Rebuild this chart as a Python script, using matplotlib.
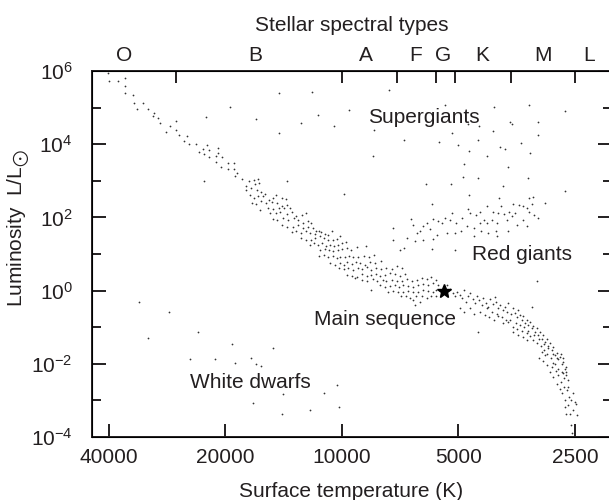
import numpy as np
import matplotlib
matplotlib.use('Agg')
import matplotlib.pyplot as plt
from matplotlib.ticker import NullLocator, NullFormatter

plt.rcParams['font.family'] = 'Liberation Sans'
plt.rcParams['mathtext.fontset'] = 'custom'
plt.rcParams['mathtext.rm'] = 'Liberation Sans'
plt.rcParams['mathtext.fallback'] = 'stixsans'
plt.rcParams['font.size'] = 15
ink = '#231f20'

# star positions as (log10 T [K], log10 L/Lsun)
ms_upper = [
    (4.605, 5.94), (4.602, 5.72), (4.579, 5.72), (4.561, 5.80), (4.561, 5.58), (4.561, 5.41),
    (4.541, 5.34), (4.537, 5.13), (4.515, 5.12), (4.529, 4.96), (4.501, 4.96), (4.485, 4.84),
    (4.488, 4.78), (4.475, 4.71), (4.470, 4.58), (4.429, 4.63), (4.444, 4.49), (4.455, 4.32),
    (4.430, 4.38), (4.421, 4.24), (4.400, 4.23), (4.407, 4.10), (4.395, 4.01), (4.377, 4.01),
    (4.349, 3.97), (4.360, 3.88), (4.344, 3.84), (4.369, 3.80), (4.356, 3.74), (4.321, 3.89),
    (4.320, 3.75), (4.344, 3.64), (4.326, 3.67), (4.309, 3.64), (4.325, 3.52), (4.295, 3.50),
    (4.279, 3.49), (4.313, 3.37), (4.295, 3.31), (4.279, 3.33), (4.272, 3.20), (4.276, 3.13),
    (4.257, 3.06),
]

ms_middle = [
    (4.240, 2.99), (4.228, 3.03), (4.218, 3.05), (4.249, 2.87), (4.225, 2.90), (4.214, 2.94),
    (4.247, 2.74), (4.234, 2.80), (4.219, 2.74), (4.210, 2.69), (4.199, 2.65), (4.238, 2.62),
    (4.228, 2.53), (4.217, 2.58), (4.204, 2.58), (4.188, 2.48), (4.178, 2.53), (4.171, 2.62),
    (4.156, 2.53), (4.145, 2.50), (4.232, 2.39), (4.221, 2.37), (4.208, 2.44), (4.195, 2.39),
    (4.182, 2.42), (4.168, 2.39), (4.212, 2.21), (4.191, 2.26), (4.178, 2.23), (4.162, 2.27),
    (4.150, 2.26), (4.154, 2.30), (4.143, 2.35), (4.135, 2.26), (4.187, 2.12), (4.171, 2.12),
    (4.161, 2.14), (4.143, 2.10), (4.128, 2.14), (4.118, 2.03), (4.104, 2.07), (4.092, 2.12),
    (4.179, 1.95), (4.169, 1.94), (4.152, 1.98), (4.139, 1.94), (4.124, 1.98), (4.113, 1.94),
    (4.100, 1.86), (4.087, 1.89), (4.080, 1.85), (4.154, 1.80), (4.141, 1.75), (4.126, 1.75),
    (4.113, 1.80), (4.100, 1.71), (4.087, 1.75), (4.074, 1.71), (4.066, 1.64), (4.053, 1.59),
    (4.130, 1.59), (4.118, 1.62), (4.105, 1.57), (4.094, 1.62), (4.082, 1.57), (4.070, 1.55),
    (4.059, 1.62), (4.044, 1.55), (4.036, 1.53), (4.027, 1.62), (4.106, 1.43), (4.094, 1.39),
    (4.081, 1.39), (4.070, 1.43), (4.057, 1.48), (4.047, 1.43), (4.035, 1.39), (4.022, 1.37),
    (4.014, 1.41), (4.006, 1.48), (4.082, 1.25), (4.072, 1.30), (4.062, 1.25), (4.051, 1.30),
    (4.042, 1.23), (4.031, 1.25), (4.020, 1.22), (4.010, 1.25), (4.001, 1.30), (3.990, 1.34),
    (4.057, 1.11), (4.044, 1.13), (4.033, 1.11), (4.022, 1.07), (4.010, 1.11), (4.001, 1.13),
    (3.988, 1.16), (3.976, 1.11), (3.962, 1.19), (3.939, 1.22), (4.059, 0.95), (4.047, 0.98),
    (4.036, 0.91), (4.024, 0.95), (4.014, 0.89), (4.004, 0.93), (3.993, 0.91), (3.982, 0.95),
    (3.971, 0.91), (3.958, 0.91), (3.944, 0.95), (3.930, 0.91), (3.918, 0.96), (4.030, 0.75),
    (4.019, 0.70), (4.006, 0.75), (3.995, 0.70), (3.986, 0.77), (3.975, 0.73), (3.964, 0.79),
    (3.954, 0.75), (3.941, 0.70), (3.928, 0.77), (3.915, 0.75), (3.898, 0.82), (4.007, 0.61),
    (3.995, 0.58), (3.984, 0.61), (3.971, 0.57), (3.958, 0.63), (3.947, 0.58), (3.935, 0.64),
    (3.924, 0.57), (3.911, 0.61), (3.898, 0.58), (3.885, 0.63), (3.872, 0.60), (3.859, 0.66),
    (3.846, 0.61), (3.986, 0.43), (3.975, 0.40), (3.962, 0.38), (3.949, 0.46), (3.936, 0.40),
    (3.924, 0.43), (3.912, 0.46), (3.902, 0.40), (3.889, 0.43), (3.876, 0.48), (3.863, 0.46),
    (3.850, 0.40), (3.837, 0.46), (3.966, 0.34), (3.947, 0.29), (3.935, 0.27), (3.921, 0.31),
    (3.909, 0.25), (3.895, 0.29), (3.885, 0.25), (3.872, 0.29), (3.859, 0.25), (3.846, 0.27),
    (3.832, 0.31), (3.820, 0.25), (3.807, 0.29), (3.794, 0.34), (3.781, 0.31), (3.769, 0.38),
    (3.756, 0.29), (3.924, 0.02), (3.902, 0.16), (3.889, 0.11), (3.876, 0.13), (3.863, 0.16),
    (3.852, 0.11), (3.842, 0.16), (3.829, 0.13), (3.816, 0.11), (3.803, 0.16), (3.790, 0.18),
    (3.777, 0.16), (3.764, 0.20), (3.751, 0.16), (3.880, -0.03), (3.867, 0.00), (3.855, -0.05),
    (3.842, -0.03), (3.829, 0.00), (3.816, -0.05), (3.803, -0.03), (3.790, 0.02), (3.777, 0.00),
    (3.766, -0.03), (3.756, 0.02), (3.848, -0.16), (3.835, -0.15), (3.823, -0.21), (3.809, -0.16),
    (3.794, -0.15), (3.781, -0.21), (3.769, -0.16), (3.756, -0.15), (3.816, -0.27), (3.799, -0.30),
    (3.811, -0.39),
]

ms_lower = [
    (3.729, 0.16), (3.721, 0.04), (3.712, -0.07), (3.708, -0.16), (3.702, -0.03), (3.695, -0.12),
    (3.691, -0.21), (3.685, 0.02), (3.680, -0.30), (3.674, -0.16), (3.670, -0.07), (3.662, -0.24),
    (3.656, -0.35), (3.652, -0.15), (3.645, -0.26), (3.639, -0.39), (3.635, -0.21), (3.628, -0.33),
    (3.622, -0.44), (3.618, -0.24), (3.611, -0.37), (3.605, -0.18), (3.601, -0.30), (3.596, -0.48),
    (3.592, -0.39), (3.585, -0.53), (3.579, -0.44), (3.574, -0.58), (3.570, -0.35), (3.564, -0.64),
    (3.559, -0.48), (3.553, -0.60), (3.549, -0.73), (3.544, -0.53), (3.540, -0.67), (3.536, -0.80),
    (3.531, -0.69), (3.527, -0.89), (3.523, -0.79), (3.519, -0.94), (3.514, -0.85), (3.510, -1.03),
    (3.506, -0.97), (3.501, -1.12), (3.497, -1.03), (3.493, -1.21), (3.488, -1.12), (3.484, -1.31),
    (3.480, -1.21), (3.475, -1.40), (3.471, -1.33), (3.467, -1.52), (3.463, -1.44), (3.458, -1.63),
    (3.454, -1.55), (3.450, -1.76), (3.445, -1.70), (3.441, -1.88), (3.437, -1.81), (3.432, -2.01),
    (3.428, -1.95), (3.424, -2.13), (3.420, -2.08), (3.430, -2.25), (3.421, -2.31), (3.415, -2.45),
    (3.435, -2.49), (3.426, -2.63), (3.418, -2.72), (3.432, -2.81), (3.413, -2.90), (3.424, -3.00),
    (3.407, -2.98), (3.398, -3.04), (3.415, -3.13), (3.395, -3.09), (3.411, -3.36), (3.394, -3.41),
    (3.421, -3.38), (3.408, -3.68), (3.406, -3.90), (3.695, -0.48), (3.685, -0.58), (3.670, -0.48),
    (3.659, -0.64), (3.643, -0.58), (3.630, -0.67), (3.619, -0.73), (3.607, -0.80), (3.596, -0.69),
    (3.583, -0.89), (3.570, -0.85), (3.559, -0.99), (3.549, -1.06), (3.536, -1.10), (3.523, -1.17),
    (3.513, -1.24), (3.506, -1.35), (3.495, -1.44), (3.486, -1.52), (3.478, -1.63), (3.469, -1.74),
    (3.461, -1.85), (3.454, -1.97), (3.490, -1.83), (3.480, -1.92), (3.469, -2.04), (3.458, -2.08),
    (3.447, -2.19), (3.441, -2.31), (3.454, -2.36), (3.445, -2.54), (3.463, -2.22), (3.475, -1.76),
    (3.484, -1.67), (3.523, -1.35), (3.533, -1.26), (3.544, -1.21), (3.557, -1.12), (3.626, -0.48),
    (3.613, -0.58), (3.600, -0.64), (3.587, -0.71), (3.576, -0.79), (3.566, -0.80), (3.550, -0.89),
    (3.540, -0.94), (3.530, -1.00), (3.519, -1.10), (3.504, -1.21), (3.490, -1.33), (3.478, -1.46),
    (3.467, -1.58), (3.456, -1.72), (3.444, -1.83), (3.435, -1.74), (3.428, -1.85), (3.450, -2.01),
    (3.441, -2.13), (3.432, -2.22), (3.421, -2.22), (3.426, -2.40), (3.415, -2.63), (3.437, -2.68),
    (3.404, -2.81), (3.424, -3.18), (3.402, -3.27), (3.509, -0.46), (3.497, 0.25),
]

giants = [
    (3.626, 2.31), (3.674, 2.24), (3.716, 2.12), (3.589, 2.31), (3.543, 2.35), (3.531, 2.31),
    (3.510, 2.37), (3.609, 2.16), (3.596, 2.12), (3.581, 2.09), (3.568, 2.14), (3.552, 2.12),
    (3.516, 2.14), (3.503, 2.07), (3.493, 1.98), (3.643, 2.16), (3.654, 2.07), (3.668, 2.12),
    (3.691, 1.98), (3.706, 1.86), (3.721, 1.94), (3.734, 1.98), (3.742, 1.85), (3.751, 1.89),
    (3.764, 1.96), (3.781, 1.85), (3.790, 1.76), (3.773, 1.67), (3.798, 1.62), (3.805, 1.57),
    (3.817, 1.80), (3.822, 1.96), (3.869, 1.71), (3.833, 1.44), (3.811, 1.35), (3.791, 1.39),
    (3.766, 1.41), (3.755, 1.53), (3.729, 1.57), (3.708, 1.57), (3.692, 1.62), (3.676, 1.76),
    (3.660, 1.71), (3.643, 1.85), (3.634, 1.94), (3.626, 1.86), (3.613, 1.94), (3.600, 1.85),
    (3.574, 1.94), (3.561, 2.03), (3.531, 1.94), (3.548, 1.80), (3.523, 1.76), (3.570, 1.62),
    (3.602, 1.62), (3.622, 1.57), (3.641, 1.62), (3.600, 1.48), (3.660, 1.48), (3.708, 1.11),
    (3.768, 1.13), (3.850, 1.11), (3.867, 1.39), (3.523, 2.26), (3.839, 1.16),
]

supergiants = [
    (4.351, 4.74), (4.289, 5.03), (4.163, 5.41), (4.078, 5.42), (4.223, 4.68), (4.162, 4.30),
    (4.106, 4.57), (4.063, 4.81), (4.021, 4.50), (3.981, 4.93), (4.143, 2.99), (4.356, 2.99),
    (3.995, 2.65), (3.878, 5.48), (3.916, 4.40), (3.841, 4.11), (3.749, 4.07), (3.919, 3.67),
    (3.734, 5.06), (3.606, 5.01), (3.516, 5.07), (3.425, 4.90), (3.716, 4.31), (3.700, 3.98),
    (3.673, 3.81), (3.649, 4.11), (3.646, 4.49), (3.675, 4.56), (3.611, 4.36), (3.625, 3.67),
    (3.592, 3.92), (3.580, 3.86), (3.566, 4.62), (3.561, 4.55), (3.537, 4.02), (3.514, 3.77),
    (3.493, 4.61), (3.493, 4.24), (3.685, 3.45), (3.570, 3.38), (3.686, 3.10), (3.649, 3.08),
    (3.519, 3.07), (3.783, 2.92), (3.718, 2.92), (3.583, 2.85), (3.424, 2.73), (3.671, 2.60),
    (3.767, 2.36), (3.595, 2.53), (3.517, 2.52), (3.506, 2.56), (3.475, 2.39), (3.559, 2.37),
]

dwarfs = [
    (4.524, -0.30), (4.448, -0.58), (4.500, -1.30), (4.373, -1.14), (4.284, -1.45), (4.179, -1.56),
    (4.393, -1.87), (4.329, -1.87), (4.277, -1.97), (4.234, -1.85), (4.221, -2.01), (4.210, -2.05),
    (4.153, -2.83), (4.046, -2.79), (4.013, -2.58), (4.229, -3.07), (4.154, -3.36), (4.083, -3.27),
    (4.007, -3.18), (3.648, -1.12),
]

sun_T, sun_L = 5450, 1.0

temp_ticks = [40000, 20000, 10000, 5000, 2500]
lum_major = [1e-4, 1e-2, 1e0, 1e2, 1e4, 1e6]
lum_minor = [1e-3, 1e-1, 1e1, 1e3, 1e5]
type_edges = [26850, 10000, 7200, 5700, 5100, 3650, 2500]
type_centres = [36600, 16800, 8670, 6440, 5480, 4350, 3020, 2300]
type_letters = ['O', 'B', 'A', 'F', 'G', 'K', 'M', 'L']

regions = [
    ('Supergiants', 8570, 3.85e4),
    ('Red giants', 4606, 6.93),
    ('Main sequence', 11790, 0.115),
    ('White dwarfs', 24700, 2.14e-3),
]

fig = plt.figure(figsize=(6.09, 5.0), dpi=100)
ax = fig.add_axes([92 / 609, 63 / 500, 520 / 609, 366 / 500])

for group in (ms_upper, ms_middle, ms_lower, giants, supergiants, dwarfs):
    logT, logL = np.array(group).T
    ax.scatter(10 ** logT, 10 ** logL, s=1.6, c='#333333', linewidths=0)
ax.plot(sun_T, sun_L, marker='*', ms=10, color='black', zorder=3)

ax.set_xscale('log')
ax.set_yscale('log')
ax.set_xlim(44240, 2006)
ax.set_ylim(1e-4, 1e6)
ax.set_xticks(temp_ticks, labels=[str(t) for t in temp_ticks])
ax.xaxis.set_minor_locator(NullLocator())
ax.set_yticks(lum_major, labels=['$\\mathdefault{10^{%d}}$' % round(np.log10(v)) for v in lum_major])
ax.set_yticks(lum_minor, minor=True)
ax.yaxis.set_minor_formatter(NullFormatter())

ax.tick_params(which='both', direction='in', top=False, right=True, width=1.4,
               color=ink, labelcolor=ink)
ax.tick_params(axis='x', length=9.4, pad=8)
ax.tick_params(axis='y', which='major', length=10, pad=14)
ax.tick_params(axis='y', which='minor', length=6.5)
for sp in ax.spines.values():
    sp.set_linewidth(1.4)
    sp.set_color(ink)

# spectral classes along the top edge
top = ax.twiny()
top.set_xscale('log')
top.set_xlim(ax.get_xlim())
top.set_xticks(type_edges, labels=[''] * len(type_edges))
top.set_xticks(type_centres, labels=type_letters, minor=True)
top.tick_params(which='major', direction='in', length=8.6, width=1.4, color=ink)
top.tick_params(which='minor', length=0, pad=4.5, labelcolor=ink)

for name, t, l in regions:
    ax.text(t, l, name, ha='left', va='baseline', color=ink)

fig.text(352 / 609, 1 - 30.7 / 500, 'Stellar spectral types', ha='center', va='baseline', color=ink)
fig.text(351 / 609, 1 - 497 / 500, 'Surface temperature (K)', ha='center', va='baseline', color=ink)
fig.text(19 / 609, 1 - 228 / 500, 'Luminosity  L/L$_{\\bigodot}$', rotation=90,
         ha='center', va='center', color=ink)

fig.savefig('out.png', dpi=100)
